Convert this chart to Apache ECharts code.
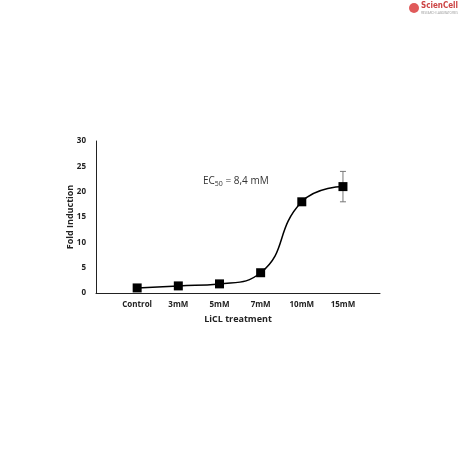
<!DOCTYPE html>
<html><head><meta charset="utf-8">
<script src="https://cdn.jsdelivr.net/npm/echarts@6/dist/echarts.min.js"></script>
<style>html,body{margin:0;padding:0;background:#fff}#c{width:460px;height:460px}</style>
</head><body><div id="c"></div>
<script>
var categories = ['Control', '3mM', '5mM', '7mM', '10mM', '15mM'];
var values = [1, 1.4, 1.8, 4, 18, 21];
var errLow = [null, null, null, null, null, 18];
var errHigh = [null, null, null, null, null, 24];
var yTicks = [0, 5, 10, 15, 20, 25, 30];

var chart = echarts.init(document.getElementById('c'));
var pts = values.map(function (v, i) { return [i, v]; });
var errData = [];
for (var i = 0; i < values.length; i++) {
  if (errLow[i] != null) errData.push([i, errLow[i], errHigh[i]]);
}
var font = 'Open Sans, Liberation Sans, sans-serif';
chart.setOption({
  animation: false,
  grid: { left: 96, right: 80, top: 141, bottom: 167 },
  xAxis: {
    type: 'value', min: -1, max: 5.9, interval: 1,
    axisLine: { show: true, onZero: false, lineStyle: { color: '#222', width: 1 } },
    axisTick: { show: false },
    splitLine: { show: false },
    axisLabel: {
      color: '#222', fontSize: 8, fontWeight: 'bold', fontFamily: font, margin: 8,
      showMaxLabel: false,
      formatter: function (v) { return categories[v] !== undefined ? categories[v] : ''; }
    },
    name: 'LiCL treatment', nameLocation: 'middle', nameGap: 22, nameMoveOverlap: false,
    nameTextStyle: { color: '#222', fontSize: 9, fontWeight: 'bold', fontFamily: font }
  },
  yAxis: {
    type: 'value', min: yTicks[0], max: yTicks[yTicks.length - 1], interval: 5,
    axisLine: { show: true, onZero: false, lineStyle: { color: '#222', width: 1 } },
    axisTick: { show: false },
    splitLine: { show: false },
    axisLabel: { color: '#222', fontSize: 8, fontWeight: 'bold', fontFamily: font, margin: 10 },
    name: 'Fold Induction', nameLocation: 'middle', nameGap: 21, nameMoveOverlap: false,
    nameTextStyle: { color: '#222', fontSize: 9, fontWeight: 'bold', fontFamily: font }
  },
  series: [
    {
      type: 'custom',
      renderItem: function (params, api) {
        var x = api.value(0);
        var lo = api.coord([x, api.value(1)]);
        var hi = api.coord([x, api.value(2)]);
        var w = 3;
        var st = { stroke: '#777', lineWidth: 1 };
        return { type: 'group', children: [
          { type: 'line', shape: { x1: lo[0], y1: lo[1], x2: hi[0], y2: hi[1] }, style: st },
          { type: 'line', shape: { x1: lo[0] - w, y1: lo[1], x2: lo[0] + w, y2: lo[1] }, style: st },
          { type: 'line', shape: { x1: hi[0] - w, y1: hi[1], x2: hi[0] + w, y2: hi[1] }, style: st }
        ] };
      },
      data: errData, z: 1
    },
    {
      type: 'line', data: pts, smooth: 0.5,
      symbol: 'rect', symbolSize: 9,
      lineStyle: { color: '#000', width: 1.5 },
      itemStyle: { color: '#000' }, z: 2
    }
  ],
  graphic: [
    {
      type: 'text', left: 203, top: 176,
      style: {
        text: '{a|EC}{b|50}{a| = 8,4 mM}',
        rich: {
          a: { fontSize: 10, fontFamily: font, fill: '#333' },
          b: { fontSize: 7, fontFamily: font, fill: '#333', padding: [5, 0, 0, 0] }
        }
      }
    },
    { type: 'circle', shape: { cx: 414, cy: 8, r: 5 }, style: { fill: '#e05a5a' } },
    { type: 'text', left: 421, top: 2, style: { text: 'ScienCell', fontSize: 8, fontFamily: 'Liberation Sans Narrow, DejaVu Sans Condensed, sans-serif', fill: '#c44', fontWeight: 'bold' } },
    { type: 'text', left: 421, top: 12, style: { text: 'RESEARCH LABORATORIES', fontSize: 3, fontFamily: font, fill: '#999' } }
  ]
});
</script></body></html>
